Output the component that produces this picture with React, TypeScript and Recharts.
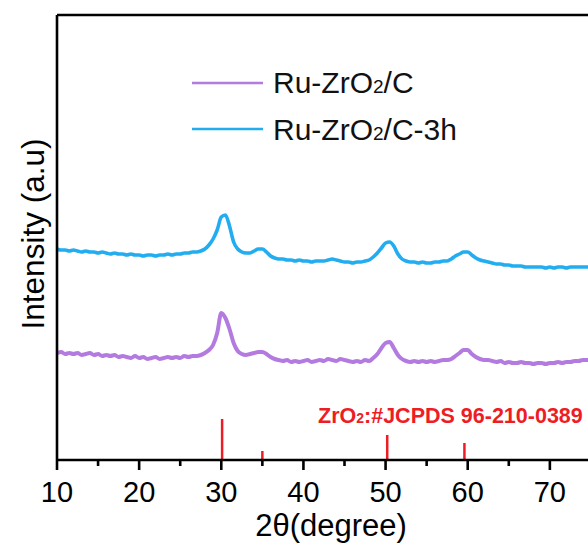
import { LineChart, Line, XAxis, YAxis, ReferenceLine } from "recharts";

// 2θ grid: 10° to 80°, 0.5° steps
const X_START = 10;
const X_STEP = 0.5;

const RU_ZRO2_C = [
  107, 108, 106, 107, 106, 107, 105, 106, 107, 105, 106, 104, 105, 104, 105, 103, 104, 103, 102, 104,
  102, 103, 101, 102, 103, 101, 102, 103, 102, 103, 102, 104, 103, 104, 104, 105, 107, 110, 115, 127,
  147, 142, 131, 117, 109, 106, 105, 106, 107, 108, 108, 106, 103, 101, 100, 99, 100, 98, 99, 98,
  99, 100, 98, 99, 100, 99, 101, 100, 99, 101, 100, 99, 98, 99, 98, 100, 99, 102, 106, 112,
  117, 118, 112, 105, 101, 99, 98, 99, 98, 99, 98, 99, 98, 99, 100, 100, 101, 104, 107, 110,
  110, 106, 103, 101, 100, 100, 99, 98, 99, 97, 98, 97, 97, 98, 97, 97, 96, 97, 97, 96,
  97, 97, 98, 97, 98, 98, 99, 99, 100, 100, 100, 99, 100, 101, 100, 100, 99, 100, 100, 101,
  100,
];

const RU_ZRO2_C_3H = [
  211, 210, 210, 209, 210, 209, 208, 209, 208, 208, 207, 208, 207, 206, 207, 206, 206, 205, 206, 205,
  205, 204, 205, 205, 204, 205, 205, 206, 205, 206, 206, 207, 207, 208, 208, 209, 211, 215, 221, 230,
  243, 245, 234, 218, 211, 208, 207, 207, 209, 211, 211, 208, 204, 202, 201, 201, 200, 200, 199, 200,
  199, 199, 198, 199, 199, 199, 200, 201, 200, 199, 198, 198, 197, 198, 198, 199, 200, 203, 207, 212,
  217, 218, 214, 206, 201, 199, 198, 198, 197, 198, 197, 197, 198, 198, 199, 199, 201, 204, 206, 208,
  208, 205, 202, 200, 199, 198, 197, 196, 196, 195, 195, 194, 194, 194, 193, 193, 193, 193, 193, 192,
  193, 192, 193, 193, 192, 193, 193, 193, 193, 193, 193, 192, 193, 193, 192, 193, 193, 192, 193, 193,
  193,
];

// ZrO2 reference pattern (JCPDS 96-210-0389)
const REF_POS = [30.1, 35.0, 50.2, 59.6];
const REF_HEIGHT = [41, 9, 25, 17];

const X_TICKS = [10, 15, 20, 25, 30, 35, 40, 45, 50, 55, 60, 65, 70, 75];

const SERIES = [
  { key: "c", name: "Ru-ZrO", sub: "2", rest: "/C", color: "#b37ae0", width: 4, values: RU_ZRO2_C },
  { key: "c3h", name: "Ru-ZrO", sub: "2", rest: "/C-3h", color: "#22adf0", width: 3.6, values: RU_ZRO2_C_3H },
];

const data = RU_ZRO2_C.map((_, i) => ({
  x: X_START + i * X_STEP,
  c: RU_ZRO2_C[i],
  c3h: RU_ZRO2_C_3H[i],
}));

const FONT = "'Liberation Sans', Arial, sans-serif";
const RED = "#ee1c24";
const AXIS = { stroke: "#000", strokeWidth: 2.6 };

function XTick({ x, y, payload }: any) {
  const major = payload.value % 10 === 0;
  const y0 = y - 10;
  return (
    <g>
      <line x1={x} x2={x} y1={y0} y2={y0 + (major ? 10 : 6)} stroke="#000" strokeWidth={2.6} />
      {major && (
        <text x={x} y={y0 + 42} textAnchor="middle" fontSize={29} fontFamily={FONT} fill="#000">
          {payload.value}
        </text>
      )}
    </g>
  );
}

export default function App() {
  return (
    <div
      style={{
        position: "absolute",
        left: 0,
        top: 0,
        width: 588,
        height: 548,
        overflow: "hidden",
        background: "#fff",
        fontFamily: FONT,
      }}
    >
      <LineChart width={660} height={548} data={data} margin={{ top: 14, right: 27, left: 56, bottom: 0 }}>
        <XAxis
          dataKey="x"
          type="number"
          domain={[10, 80]}
          ticks={X_TICKS}
          interval={0}
          tick={<XTick />}
          tickLine={false}
          tickSize={10}
          tickMargin={0}
          height={88}
          axisLine={AXIS}
          allowDataOverflow
        />
        <XAxis
          xAxisId="top"
          orientation="top"
          dataKey="x"
          type="number"
          domain={[10, 80]}
          height={1}
          tick={false}
          tickLine={false}
          axisLine={AXIS}
        />
        <YAxis
          type="number"
          domain={[0, 445]}
          width={1}
          tick={false}
          tickLine={false}
          axisLine={AXIS}
          allowDataOverflow
        />
        <YAxis
          yAxisId="right"
          orientation="right"
          type="number"
          domain={[0, 445]}
          width={1}
          tick={false}
          tickLine={false}
          axisLine={AXIS}
        />
        {REF_POS.map((p, i) => (
          <ReferenceLine
            key={p}
            segment={[
              { x: p, y: 0 },
              { x: p, y: REF_HEIGHT[i] },
            ]}
            stroke={RED}
            strokeWidth={2.5}
          />
        ))}
        {SERIES.map((s) => (
          <Line
            key={s.key}
            dataKey={s.key}
            type="monotone"
            stroke={s.color}
            strokeWidth={s.width}
            dot={false}
            isAnimationActive={false}
          />
        ))}
      </LineChart>

      <svg
        width={588}
        height={548}
        style={{ position: "absolute", left: 0, top: 0, pointerEvents: "none" }}
        fontFamily={FONT}
      >
        {SERIES.map((s, i) => (
          <g key={s.key}>
            <line x1={192} x2={263} y1={83 + i * 46} y2={83 + i * 46} stroke={s.color} strokeWidth={2.5} />
            <text x={273} y={93 + i * 47} fontSize={30} fill="#111">
              {s.name}
              <tspan fontSize={19}>{s.sub}</tspan>
              {s.rest}
            </text>
          </g>
        ))}
        <text x={318} y={423} fontSize={21.5} fontWeight="bold" fill={RED}>
          ZrO<tspan fontSize={14}>2</tspan>:#JCPDS 96-210-0389
        </text>
        <text x={331} y={536} fontSize={31} textAnchor="middle" fill="#000">
          2θ(degree)
        </text>
        <text
          x={33}
          y={234}
          fontSize={31.5}
          textAnchor="middle"
          dominantBaseline="central"
          transform="rotate(-90, 33, 234)"
          fill="#000"
        >
          Intensity (a.u)
        </text>
      </svg>
    </div>
  );
}
